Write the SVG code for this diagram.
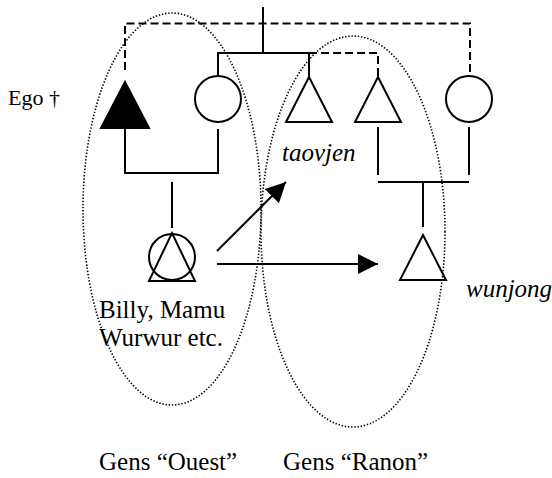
<svg xmlns="http://www.w3.org/2000/svg" width="552" height="478" viewBox="0 0 552 478">
<style>
.ln{stroke:#000;stroke-width:2;fill:none}
.dash{stroke:#000;stroke-width:2;fill:none;stroke-dasharray:8 4}
.shape{stroke:#000;stroke-width:2;fill:#fff}
.dot{stroke:#000;stroke-width:1.6;fill:none;stroke-dasharray:1.4 1.8}
.t{font-family:"Liberation Serif","Times New Roman",serif;font-size:25px;fill:#000}
.i{font-style:italic}
</style>
<defs>
<marker id="ah" markerWidth="20" markerHeight="20" refX="20" refY="10" orient="auto" markerUnits="userSpaceOnUse">
<path d="M0,0 L20,10 L0,20 Z" fill="#000"/>
</marker>
</defs>
<rect width="552" height="478" fill="#fff"/>
<g id="connectors">
<line class="ln" x1="263" y1="7" x2="263" y2="53"/>
<path class="dash" d="M125,70 V23.5 H470 V74"/>
<path class="ln" d="M218,76 V53 H309 V77"/>
<path class="dash" d="M309,53 H378 V77"/>
<path class="ln" d="M125,128 V173 H218 V129"/>
<line class="ln" x1="172" y1="182" x2="172" y2="228"/>
<line class="ln" x1="378" y1="127" x2="378" y2="175"/>
<line class="ln" x1="469" y1="127" x2="469" y2="175"/>
<line class="ln" x1="378" y1="182" x2="469" y2="182"/>
<line class="ln" x1="423" y1="182" x2="423" y2="227"/>
<line class="ln" x1="217" y1="251" x2="286" y2="182" marker-end="url(#ah)"/>
<line class="ln" x1="217" y1="264" x2="378" y2="264" marker-end="url(#ah)"/>
</g>
<g id="ego">
<polygon points="125,82 149,128 101,128" fill="#000" stroke="#000" stroke-width="2"/>
<text class="t" x="8" y="105" style="font-size:22px">Ego †</text>
</g>
<g id="mother"><circle class="shape" cx="218" cy="99" r="23"/></g>
<g id="brother1"><polygon class="shape" points="309,77 332,122 286,122"/></g>
<g id="brother2"><polygon class="shape" points="378,77 401,122 355,122"/></g>
<g id="woman-right"><circle class="shape" cx="469" cy="99" r="23"/></g>
<g id="billy">
<circle class="shape" cx="172" cy="257" r="23"/>
<polygon class="ln" points="172,233 195,281 149,281"/>
<text class="t" x="99" y="318">Billy, Mamu</text>
<text class="t" x="99" y="346">Wurwur etc.</text>
</g>
<g id="wunjong-node">
<polygon class="shape" points="423,235 446,280 400,280"/>
<text class="t i" x="466" y="297">wunjong</text>
</g>
<g id="taovjen-label"><text class="t i" x="282" y="161">taovjen</text></g>
<g id="gens">
<ellipse class="dot" cx="172" cy="209" rx="89" ry="196"/>
<ellipse class="dot" cx="353" cy="231.5" rx="92" ry="195.5"/>
<text class="t" x="99" y="470">Gens “Ouest”</text>
<text class="t" x="283" y="470">Gens “Ranon”</text>
</g>
</svg>
